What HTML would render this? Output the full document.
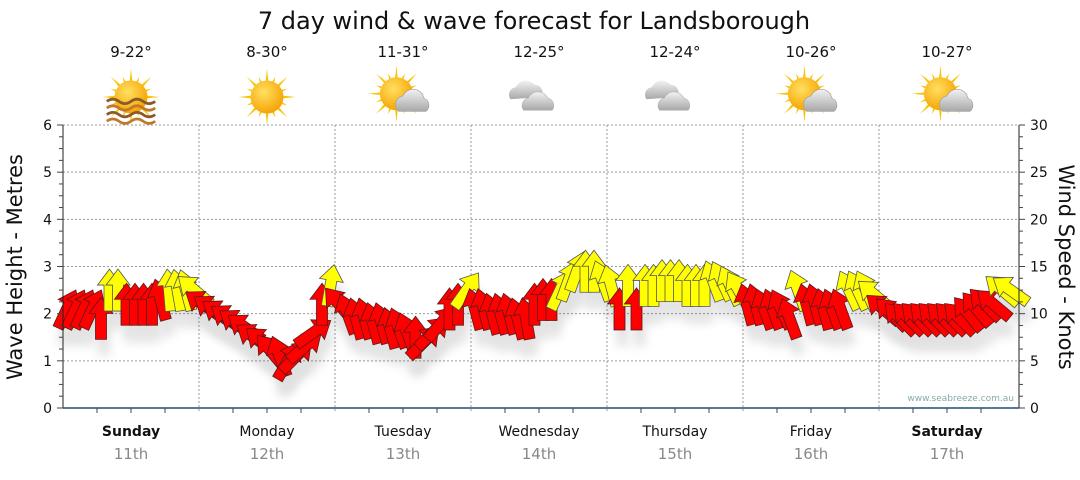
<!DOCTYPE html>
<html><head><meta charset="utf-8"><style>
body{margin:0;background:#fff;width:1080px;height:475px;overflow:hidden;font-family:"Liberation Sans",sans-serif}
svg text{font-family:"DejaVu Sans","Liberation Sans",sans-serif}
</style></head><body>
<svg id="chart" width="1080" height="475" xmlns="http://www.w3.org/2000/svg">
<defs>
<radialGradient id="sunG" cx="0.4" cy="0.35" r="0.7"><stop offset="0" stop-color="#ffe060"/><stop offset="1" stop-color="#f5a000"/></radialGradient>
<linearGradient id="cloudG" x1="0" y1="0" x2="0" y2="1"><stop offset="0" stop-color="#f2f2f2"/><stop offset="1" stop-color="#a8a8a8"/></linearGradient>
<filter id="sh" x="-50%" y="-50%" width="200%" height="200%"><feGaussianBlur stdDeviation="5"/></filter>
</defs>
<text x="534" y="29" font-size="24" text-anchor="middle" fill="#111">7 day wind &amp; wave forecast for Landsborough</text>
<g id="grid"></g>
<g id="icons"></g>
<g id="shadows" opacity="0.18"></g>
<g id="arrows"></g>
<g id="axes"></g>
<text x="1014" y="401" font-size="9" text-anchor="end" fill="#8aa">www.seabreeze.com.au</text>
<text transform="translate(22,267) rotate(-90)" font-size="21" text-anchor="middle" fill="#111">Wave Height - Metres</text>
<text transform="translate(1059,267) rotate(90)" font-size="21" text-anchor="middle" fill="#111">Wind Speed - Knots</text>
</svg>
<script>
const days=["Sunday","Monday","Tuesday","Wednesday","Thursday","Friday","Saturday"];
const dates=["11th","12th","13th","14th","15th","16th","17th"];
const temps=["9-22°","8-30°","11-31°","12-25°","12-24°","10-26°","10-27°"];
const icons=["haze","sun","partly","cloud","cloud","partly","partly"];
const metreTicks=[0,1,2,3,4,5,6];
const knotTicks=[0,5,10,15,20,25,30];
const speeds=[
10.5,10.5,10.5,10.5,9.5,12.5,12.5,11,11,11,11,11.5,12.5,12.5,12.5,12.5,
11,10.5,10,9.5,9,8.5,7.5,7,6,5.5,5,5.5,6.5,8,11,13,
11,10,9.5,9.5,9,9,8.5,8.5,8,7.5,7,8,9,10.5,11,12.5,
10.5,10.5,10,10,10,9.5,9.5,11,11.5,11.5,12.5,13.5,14.5,14.5,14.5,13.5,
13,10.5,13,10.5,13,13,13.5,13.5,13.5,13,13,13,13.5,13.5,13,12.5,
11,11,10.5,10.5,10.5,9.5,12.5,11,11,10.5,10.5,10.5,12.5,12.5,12.5,12,
10.5,10,9.5,9.5,9.5,9.5,9.5,9.5,9.5,9.5,10,10.5,11,11,12.5,12.5];
const dirs=[
25,25,25,25,0,0,0,0,0,0,0,-15,-5,-10,-15,-50,
-55,-55,-55,-55,-55,-55,-55,-50,-40,-20,30,45,50,55,0,10,
-40,-20,-15,-15,-15,-15,-15,-20,-20,0,45,45,40,0,0,35,
-15,-15,-15,-15,-15,-15,-10,0,0,0,25,20,20,0,0,-20,
-15,0,0,0,0,0,0,0,0,0,0,0,-20,-25,-25,-30,
-15,-15,-20,-20,-25,-20,-20,-15,-15,-15,-20,-20,-25,-25,-25,-50,
-50,-45,-45,-45,-45,-45,-45,-45,-45,-45,-40,-40,-45,-50,-50,-55];

const NS="http://www.w3.org/2000/svg";
const X0=63,X1=1015,Y0=408,YT=125,DAYW=(X1-X0)/7;
const yM=m=>Y0-(Y0-YT)*m/6;
const yK=k=>Y0-(Y0-YT)*k/30;
const xI=i=>X0+4+(i)*(X1-X0)/speeds.length;
function mk(t,a,p){const e=document.createElementNS(NS,t);for(const k in a)e.setAttribute(k,a[k]);(p||document.getElementById('chart')).appendChild(e);return e;}
const grid=document.getElementById('grid'),axes=document.getElementById('axes'),ic=document.getElementById('icons');
metreTicks.forEach(m=>{if(m>0){const l=mk('line',{x1:X0,x2:X1+4,y1:yM(m),y2:yM(m),stroke:'#999','stroke-dasharray':'2,2','stroke-width':1},grid);

}});
for(let d=1;d<7;d++){const l=mk('line',{x1:X0+d*DAYW,x2:X0+d*DAYW,y1:YT,y2:Y0+5,stroke:'#999','stroke-dasharray':'2,2'},grid);

}
mk('line',{x1:X0,x2:X0,y1:YT,y2:Y0,stroke:'#222'},axes);
mk('line',{x1:X1+4,x2:X1+4,y1:YT,y2:Y0,stroke:'#222'},axes);
mk('line',{x1:X0,x2:X1+4,y1:Y0,y2:Y0,stroke:'#1f4e79','stroke-width':1.5},axes);
for(let q=0;q<=24;q++){const m=q/4;mk('line',{x1:X0-(q%4?4:6),x2:X0,y1:yM(m),y2:yM(m),stroke:'#444'},axes);mk('line',{x1:X1+4,x2:X1+4+(q%4?4:6),y1:yM(m),y2:yM(m),stroke:'#444'},axes);}
metreTicks.forEach(m=>{const t=mk('text',{x:X0-11,y:yM(m)+5,'font-size':14,'text-anchor':'end',fill:'#111'},axes);t.textContent=m;

});
knotTicks.forEach(k=>{const t=mk('text',{x:X1+15,y:yK(k)+5,'font-size':14,fill:'#111'},axes);t.textContent=k;

});
for(let q=1;q<28;q++){if(q%4==0)continue;const x=X0+q*DAYW/4;mk('line',{x1:x,x2:x,y1:Y0,y2:Y0+5,stroke:'#444'},axes);}
days.forEach((d,i)=>{const cx=X0+(i+0.5)*DAYW;
const t=mk('text',{x:cx,y:436,'font-size':14,'text-anchor':'middle',fill:'#111','font-weight':(i==0||i==6)?'bold':'normal'},axes);t.textContent=d;


const t2=mk('text',{x:cx,y:459,'font-size':15,'text-anchor':'middle',fill:'#888'},axes);t2.textContent=dates[i];


const t3=mk('text',{x:cx,y:57,'font-size':15,'text-anchor':'middle',fill:'#111'},ic);t3.textContent=temps[i];


const g=mk('g',{transform:`translate(${cx},97) scale(1.1)`},ic);


const type=icons[i];
if(type!='cloud'){const sx=type=='partly'?-6:0,sy=type=='partly'?-3:0;
for(let r=0;r<16;r++){const a=r*Math.PI/8,L=r%2?20:26;mk('polygon',{points:`${sx+Math.cos(a-0.12)*12},${sy+Math.sin(a-0.12)*12} ${sx+Math.cos(a)*L},${sy+Math.sin(a)*L} ${sx+Math.cos(a+0.12)*12},${sy+Math.sin(a+0.12)*12}`,fill:'#f8c400'},g);}
mk('circle',{cx:sx,cy:sy,r:15,fill:'url(#sunG)'},g);}
if(type=='haze'){for(let w=0;w<4;w++){mk('path',{d:`M-22,${4+w*6} q5.5,-4 11,0 t11,0 t11,0 t11,0`,fill:'none',stroke:w%2?'#c0782a':'#8a5a2a','stroke-width':2.5},g);}}
if(type=='partly'){mk('path',{d:'M-4,13 a8,8 0 0 1 4,-14 a10,10 0 0 1 19,2 a7,7 0 0 1 2,12 z',fill:'url(#cloudG)',stroke:'#999','stroke-width':0.5},g);}
if(type=='cloud'){mk('path',{d:'M-26,2 a7,7 0 0 1 5,-11 a10,10 0 0 1 17,-2 a7,7 0 0 1 6,11 z',fill:'url(#cloudG)'},g);
mk('path',{d:'M-14,12 a7,7 0 0 1 4,-11 a10,10 0 0 1 18,0 a7,7 0 0 1 4,11 z',fill:'url(#cloudG)',stroke:'#aaa','stroke-width':0.5},g);}
});
const AR=document.getElementById('arrows'),SH=document.getElementById('shadows');
const shape="0,-21 12,-5 5.5,-5 5.5,21 -5.5,21 -5.5,-5 -12,-5";
speeds.forEach((s,i)=>{const x=xI(i),y=yK(s);
const sh=mk('polygon',{points:shape,fill:'#555',filter:'url(#sh)',transform:`translate(${x+3},${y+16}) rotate(${dirs[i]})`},SH);


const p=mk('polygon',{points:shape,fill:s>=12?'#ffff00':'#ff0000',stroke:s>=12?'#555':'#5a1a1a','stroke-width':0.8,transform:`translate(${x},${y}) rotate(${dirs[i]})`},AR);

});
</script>
</body></html>
